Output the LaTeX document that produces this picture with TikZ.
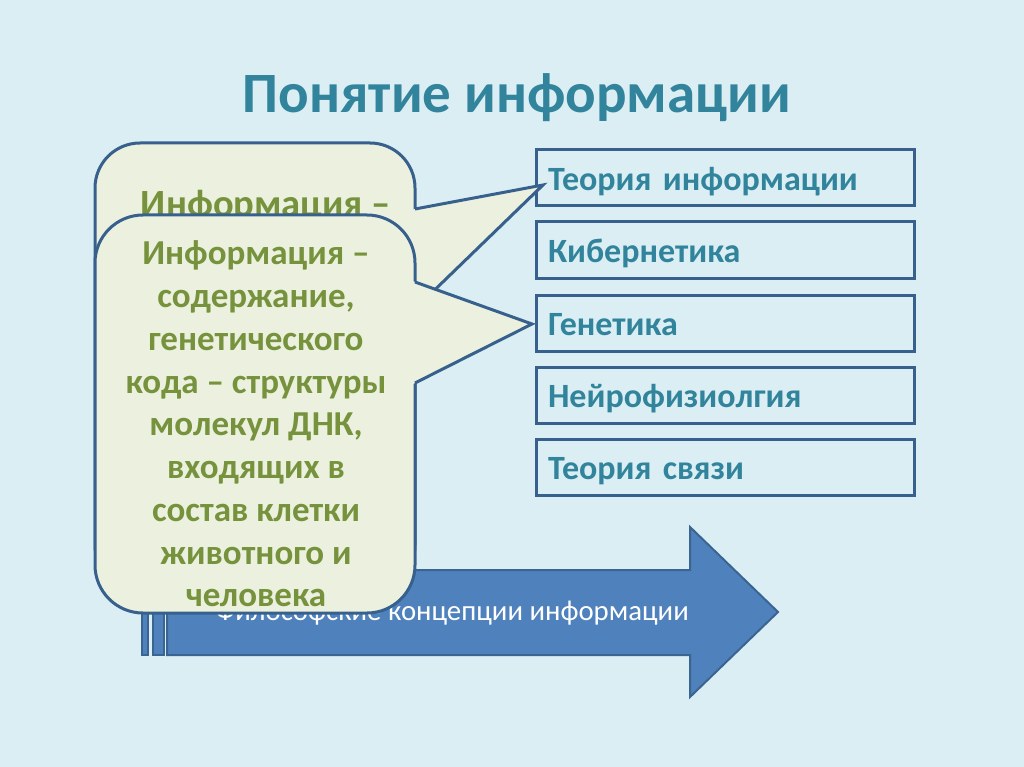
\documentclass[tikz,border=0pt]{standalone}
\usepackage{fontspec}
\setmainfont{Carlito}
\definecolor{slidebg}{HTML}{DBEEF4}
\definecolor{boxline}{HTML}{37618C}
\definecolor{boxtext}{HTML}{31849B}
\definecolor{bubblefill}{HTML}{EBF1DE}
\definecolor{bubbletext}{HTML}{76923C}
\definecolor{arrowfill}{HTML}{4F81BD}
\definecolor{arrowline}{HTML}{3A6590}
\tikzset{
  field/.style={draw=boxline,line width=3pt,minimum height=56pt,
    text width=354pt,inner xsep=12pt,inner ysep=4pt,align=left,
    text height=33pt,text depth=8pt,text=boxtext,
    font=\fontsize{34}{40}\selectfont\bfseries},
  bubble/.style={draw=boxline,line width=3pt,fill=bubblefill},
  bubbleline/.style={draw=boxline,line width=3pt,line join=miter},
  arrowpart/.style={draw=arrowline,line width=2pt,fill=arrowfill}
}

\begin{document}
\begin{tikzpicture}[x=1pt,y=-1pt]
          \useasboundingbox (0,0) rectangle (1024,767);
          \fill[slidebg] (0,0) rectangle (1024,767);
          \node[anchor=base,text=boxtext,font=\fontsize{57}{62}\selectfont\bfseries]
            (title) at (517,113) {Понятие информации};
          % right column
          \node[field] (teoria) at (725,178) {Теория информации};
          \node[field] (kiber) at (725,250) {Кибернетика};
          \node[field] (genetika) at (725,323) {Генетика};
          \node[field] (neiro) at (725,395) {Нейрофизиолгия};
          \node[field] (svyaz) at (725,467) {Теория связи};
          % striped arrow
          \draw[arrowpart] (142,570) rectangle (148,655);
          \draw[arrowpart] (153,570) rectangle (164,655);
          \draw[arrowpart] (167,570)--(690,570)--(690,527)--(778,612)
            --(690,697)--(690,655)--(167,655)--cycle;
          \node[text=white,font=\fontsize{28.8}{34}\selectfont] (philo) at (452,613)
            {Философские концепции информации};
          % back callout
          \draw[bubble,rounded corners=45pt] (95,143) rectangle (415,590);
          \fill[bubblefill] (413,209.4)--(543,185)--(413,310.9)--cycle;
          \draw[bubbleline] (415,209)--(543,185)--(415,309);
          \node[anchor=base,text=bubbletext,font=\fontsize{38.5}{44}\selectfont\bfseries]
            (infoback) at (266,217) {Информация –};
          % front callout
          \draw[bubble,rounded corners=48pt] (95,215) rectangle (415,613);
          \fill[bubblefill] (413,281.3)--(532,324)--(413,384)--cycle;
          \draw[bubbleline] (415,282)--(532,324)--(415,383);
          \node[align=center,text=bubbletext,font=\fontsize{35}{42.75}\selectfont\bfseries]
            (infofront) at (256,424) {Информация --\\содержание,\\генетического\\кода -- структуры\\молекул ДНК,\\входящих в\\состав клетки\\животного и\\человека};
        \end{tikzpicture}
\end{document}
